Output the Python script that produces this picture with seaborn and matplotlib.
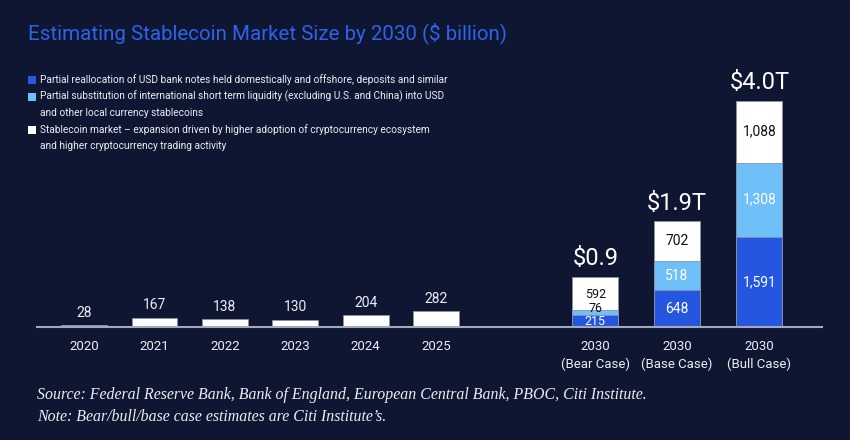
import numpy as np
import pandas as pd
import matplotlib
matplotlib.use("Agg")
import matplotlib.pyplot as plt
from matplotlib.patches import Rectangle
import seaborn as sns

# data ($ billion)
categories = ["2020", "2021", "2022", "2023", "2024", "2025",
              "2030\n(Bear Case)", "2030\n(Base Case)", "2030\n(Bull Case)"]
bank_notes = [0, 0, 0, 0, 0, 0, 215, 648, 1591]
liquidity = [0, 0, 0, 0, 0, 0, 76, 518, 1308]
market = [28, 167, 138, 130, 204, 282, 592, 702, 1088]
totals_text = ["$0.9", "$1.9T", "$4.0T"]

legend_lines = [
    ["Partial reallocation of USD bank notes held domestically and offshore, deposits and similar"],
    ["Partial substitution of international short term liquidity (excluding U.S. and China) into USD",
     "and other local currency stablecoins"],
    ["Stablecoin market \u2013 expansion driven by higher adoption of cryptocurrency ecosystem",
     "and higher cryptocurrency trading activity"],
]

# x positions (historical then a gap before the scenarios)
pos = [0, 1, 2, 3, 4, 5, 7.26, 8.42, 9.59]

BG = "#0f1632"
DARK = "#2456e0"
LIGHT = "#6fbff8"
WHITE = "#ffffff"
EDGE = "#8a91a8"
TXT = "#eceef4"

sns.set_theme(style="white")
plt.rcParams["font.family"] = ["Roboto", "DejaVu Sans"]

df = pd.DataFrame({"pos": pos, "cat": categories,
                   "dark": bank_notes, "light": liquidity, "white": market})
df["c2"] = df["dark"] + df["light"]
df["total"] = df["c2"] + df["white"]

fig = plt.figure(figsize=(8.5, 4.4), dpi=100, facecolor=BG)
ax = fig.add_axes([37 / 850, 113 / 440, 785 / 850, 266.5 / 440])
ax.set_facecolor(BG)

for col, color in [("total", WHITE), ("c2", LIGHT), ("dark", DARK)]:
    sub = df[df[col] > 0]
    step = np.diff(np.sort(sub["pos"].values)).min()
    sns.barplot(data=sub, x="pos", y=col, native_scale=True, width=0.65 / step,
                color=color, saturation=1, edgecolor=EDGE, linewidth=0.6,
                errorbar=None, ax=ax)

ax.set_xlim(-0.668, 10.48)
ax.set_ylim(0, 4700)
ax.set_xticks(pos)
ax.set_xticklabels(categories, color=TXT, fontsize=9.5, linespacing=1.45)
ax.tick_params(axis="x", length=0, pad=9)
ax.set_yticks([])
ax.set_xlabel("")
ax.set_ylabel("")
for s in ["top", "left", "right"]:
    ax.spines[s].set_visible(False)
ax.spines["bottom"].set_color("#a3a8bb")
ax.spines["bottom"].set_linewidth(1.5)

# value labels
for i, r in df.iterrows():
    if r["dark"] == 0:
        ax.annotate(f"{int(r['white']):,}", (r["pos"], r["total"]), xytext=(0, 9),
                    textcoords="offset points", ha="center", va="center",
                    color=TXT, fontsize=10)
    elif r["light"] < 100:
        # thin bear-case segments: labels stacked tightly
        ax.annotate(f"{int(r['dark']):,}", (r["pos"], 0), xytext=(0, 4.3),
                    textcoords="offset points", ha="center", va="center",
                    color="white", fontsize=9)
        ax.annotate(f"{int(r['light']):,}", (r["pos"], r["c2"]), xytext=(0, 1.6),
                    textcoords="offset points", ha="center", va="center",
                    color="#111111", fontsize=9)
        ax.annotate(f"{int(r['white']):,}", (r["pos"], r["total"]), xytext=(0, -12.8),
                    textcoords="offset points", ha="center", va="center",
                    color="#111111", fontsize=9)
    else:
        ax.text(r["pos"], r["dark"] / 2, f"{int(r['dark']):,}", ha="center", va="center",
                color="white", fontsize=10)
        ax.text(r["pos"], r["dark"] + r["light"] / 2, f"{int(r['light']):,}",
                ha="center", va="center", color="white", fontsize=10)
        ax.text(r["pos"], r["c2"] + r["white"] / 2, f"{int(r['white']):,}", ha="center",
                va="center", color="#111111", fontsize=10)

scen = df[df["dark"] > 0].reset_index(drop=True)
for i, r in scen.iterrows():
    ax.annotate(totals_text[i], (r["pos"], r["total"]), xytext=(0, 13),
                textcoords="offset points", ha="center", va="center",
                color="white", fontsize=17)

# title
fig.text(28 / 850, 1 - 33 / 440, "Estimating Stablecoin Market Size by 2030 ($ billion)",
         color="#2f62e8", fontsize=14.8, va="center", ha="left")

# legend
y = 80
for lines, color in zip(legend_lines, [DARK, LIGHT, WHITE]):
    fig.add_artist(Rectangle((28 / 850, 1 - (y + 4) / 440), 7.5 / 850, 8 / 440,
                             transform=fig.transFigure, facecolor=color, edgecolor="none"))
    for ln in lines:
        fig.text(40 / 850, 1 - y / 440, ln, color=TXT, fontsize=7.3, va="center", ha="left")
        y += 16.6

# footer
fig.text(37 / 850, 1 - 395 / 440,
         "Source: Federal Reserve Bank, Bank of England, European Central Bank, PBOC, Citi Institute.",
         color=TXT, fontsize=11.4, family="Liberation Serif", style="italic", va="center")
fig.text(37 / 850, 1 - 417 / 440,
         "Note: Bear/bull/base case estimates are Citi Institute\u2019s.",
         color=TXT, fontsize=11.4, family="Liberation Serif", style="italic", va="center")

fig.savefig("out.png", dpi=100, facecolor=BG)
